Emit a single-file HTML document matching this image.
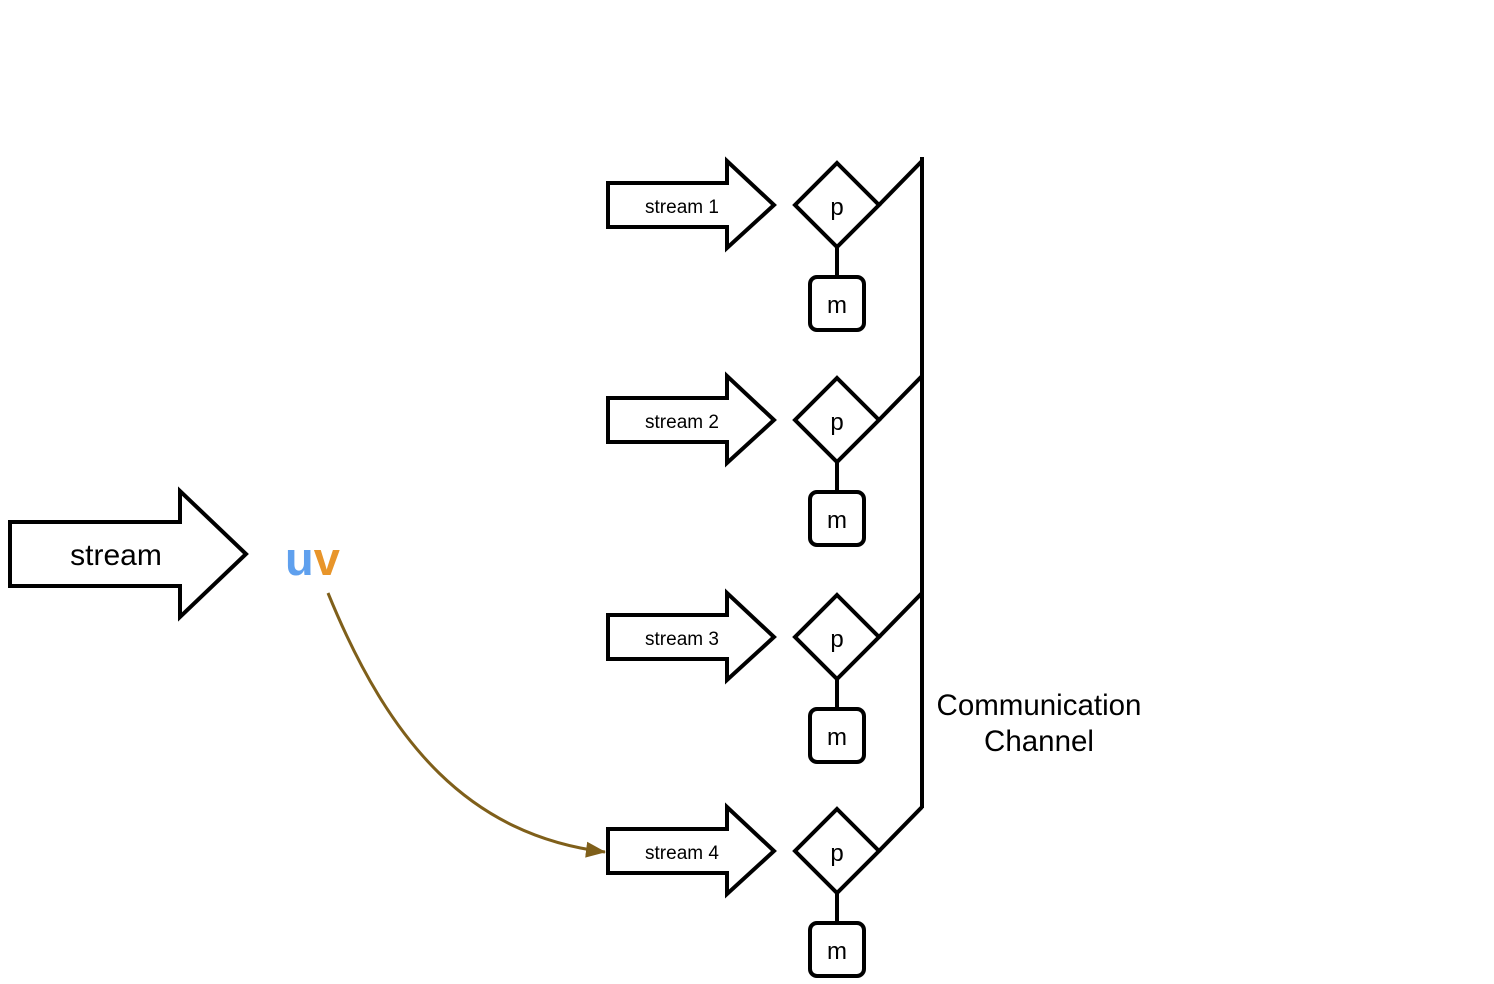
<!DOCTYPE html>
<html><head><meta charset="utf-8"><style>
html,body{margin:0;padding:0;background:#fff;}
svg{display:block;}
text{font-family:"Liberation Sans",sans-serif;}
</style></head><body>
<svg width="1494" height="984" viewBox="0 0 1494 984" xmlns="http://www.w3.org/2000/svg">
<defs>
<marker id="ah" markerWidth="20" markerHeight="16" refX="19" refY="8" orient="auto" markerUnits="userSpaceOnUse" viewBox="0 0 20 16">
<path d="M0,0 L20,8 L0,16 z" fill="#7f5f1a"/>
</marker>
<g id="grp">
<path d="M608,183 L727,183 L727,161 L774,205 L727,248 L727,227 L608,227 Z" fill="#fff" stroke="#000" stroke-width="4" stroke-linejoin="miter"/>
<path d="M837,163 L879,205 L837,247 L795,205 Z" fill="#fff" stroke="#000" stroke-width="4"/>
<text x="837" y="215" font-size="24" text-anchor="middle">p</text>
<line x1="837" y1="247" x2="837" y2="277" stroke="#000" stroke-width="4"/>
<rect x="810" y="277" width="54" height="53" rx="7" fill="#fff" stroke="#000" stroke-width="4"/>
<text x="837" y="313" font-size="24" text-anchor="middle">m</text>
<line x1="879" y1="205" x2="922" y2="161" stroke="#000" stroke-width="4"/>
</g>
</defs>
<g><use href="#grp"/><text x="682" y="213" font-size="19" text-anchor="middle">stream 1</text></g>
<g transform="translate(0,215)"><use href="#grp"/><text x="682" y="213" font-size="19" text-anchor="middle">stream 2</text></g>
<g transform="translate(0,432)"><use href="#grp"/><text x="682" y="213" font-size="19" text-anchor="middle">stream 3</text></g>
<g transform="translate(0,646)"><use href="#grp"/><text x="682" y="213" font-size="19" text-anchor="middle">stream 4</text></g>
<line x1="922" y1="157" x2="922" y2="808" stroke="#000" stroke-width="4"/>
<text x="1039" y="715" font-size="29.5" text-anchor="middle">Communication</text>
<text x="1039" y="751" font-size="29.5" text-anchor="middle">Channel</text>
<path d="M10,522 L180,522 L180,491 L246,554 L180,617 L180,586 L10,586 Z" fill="#fff" stroke="#000" stroke-width="4"/>
<text x="116" y="565" font-size="30" text-anchor="middle">stream</text>
<text x="285" y="575" font-size="47" font-weight="bold"><tspan fill="#5fa0ee">u</tspan><tspan fill="#e8952a">v</tspan></text>
<path d="M328,593 C390,745 470,835 605,852" fill="none" stroke="#7f5f1a" stroke-width="3" marker-end="url(#ah)"/>
</svg>
</body></html>
